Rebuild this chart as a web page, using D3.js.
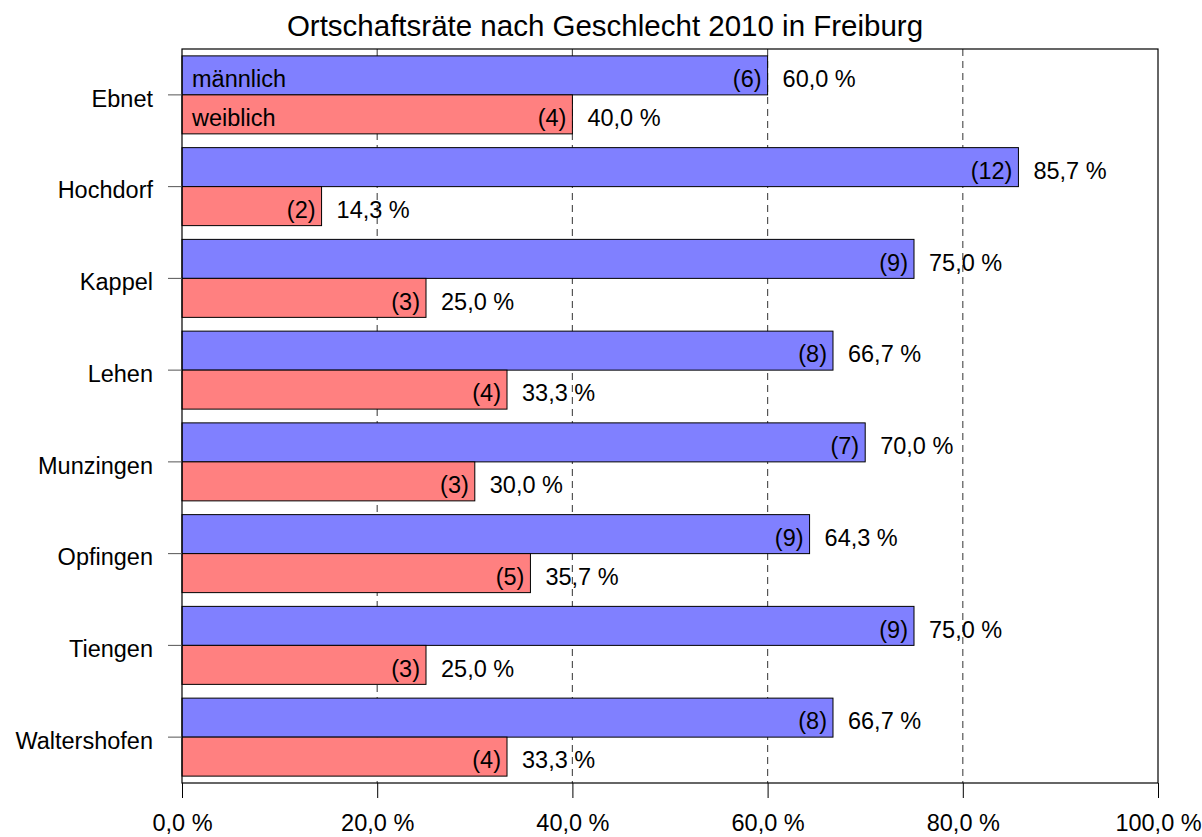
<!DOCTYPE html>
<html>
<head>
<meta charset="utf-8">
<script src="https://cdn.jsdelivr.net/npm/d3@7"></script>
<style>
  body { margin: 0; background: #fff; }
  svg { font-family: "Liberation Sans", Arial, sans-serif; }
</style>
</head>
<body>
<div id="chart"></div>
<script>
const places = ["Ebnet", "Hochdorf", "Kappel", "Lehen", "Munzingen", "Opfingen", "Tiengen", "Waltershofen"];
const maleSeats = [6, 12, 9, 8, 7, 9, 9, 8];
const femaleSeats = [4, 2, 3, 4, 3, 5, 3, 4];
const malePct = [60.0, 85.7, 75.0, 66.7, 70.0, 64.3, 75.0, 66.7];
const femalePct = [40.0, 14.3, 25.0, 33.3, 30.0, 35.7, 25.0, 33.3];
const groups = ["männlich", "weiblich"];
const xTicks = [0, 20, 40, 60, 80, 100];

const margin = { top: 49, right: 44, bottom: 54, left: 182 },
  width = 1202 - margin.left - margin.right,
  height = 837 - margin.top - margin.bottom;

const colours = { "männlich": "#8080ff", "weiblich": "#ff8080" };
const fontSize = 23.5;

const pct = v => d3.format(".1f")(v).replace(".", ",") + " %";

const rows = [];
places.forEach((p, i) => {
  rows.push({ place: p, group: "männlich", seats: maleSeats[i], share: malePct[i] });
  rows.push({ place: p, group: "weiblich", seats: femaleSeats[i], share: femalePct[i] });
});

const svg = d3.select("#chart")
  .append("svg")
  .attr("width", 1202)
  .attr("height", 837);

svg.append("text")
  .attr("x", 605)
  .attr("y", 36)
  .attr("text-anchor", "middle")
  .style("font-size", "29.5px")
  .text("Ortschaftsräte nach Geschlecht 2010 in Freiburg");

const g = svg.append("g")
  .attr("transform", `translate(${margin.left},${margin.top})`);

const x = d3.scaleLinear().domain([0, 100]).range([0, width]);
const y = d3.scaleBand().domain(places).range([0, height]).paddingInner(0.15).paddingOuter(0.075);
const ySub = d3.scaleBand().domain(groups).range([0, y.bandwidth()]);

// dashed grid
g.append("g")
  .selectAll("line")
  .data(xTicks.filter(t => t > 0 && t < 100))
  .join("line")
  .attr("x1", d => x(d)).attr("x2", d => x(d))
  .attr("y1", 0).attr("y2", height)
  .attr("stroke", "#555")
  .attr("stroke-width", 1.2)
  .attr("stroke-dasharray", "7,5");

// bars
g.append("g")
  .selectAll("rect")
  .data(rows)
  .join("rect")
  .attr("x", 0)
  .attr("y", d => y(d.place) + ySub(d.group))
  .attr("width", d => x(d.share))
  .attr("height", ySub.bandwidth())
  .attr("fill", d => colours[d.group])
  .attr("stroke", "#000")
  .attr("stroke-width", 1);

// seat counts inside the bars
g.append("g")
  .selectAll("text")
  .data(rows)
  .join("text")
  .attr("x", d => x(d.share) - 6)
  .attr("y", d => y(d.place) + ySub(d.group) + ySub.bandwidth() / 2)
  .attr("dy", "0.5em")
  .attr("text-anchor", "end")
  .style("font-size", fontSize + "px")
  .text(d => `(${d.seats})`);

// percentages after the bars
g.append("g")
  .selectAll("text")
  .data(rows)
  .join("text")
  .attr("x", d => x(d.share) + 15)
  .attr("y", d => y(d.place) + ySub(d.group) + ySub.bandwidth() / 2)
  .attr("dy", "0.5em")
  .style("font-size", fontSize + "px")
  .text(d => pct(d.share));

// group names in the first bars
g.append("g")
  .selectAll("text")
  .data(groups)
  .join("text")
  .attr("x", 10)
  .attr("y", d => y(places[0]) + ySub(d) + ySub.bandwidth() / 2)
  .attr("dy", "0.5em")
  .style("font-size", fontSize + "px")
  .text(d => d);

// frame
g.append("rect")
  .attr("width", width)
  .attr("height", height)
  .attr("fill", "none")
  .attr("stroke", "#000")
  .attr("stroke-width", 1.2);

// axes
const xAxis = g.append("g")
  .attr("transform", `translate(0,${height})`)
  .call(d3.axisBottom(x).tickValues(xTicks).tickSize(15).tickPadding(16).tickFormat(pct));
xAxis.select(".domain").remove();
xAxis.selectAll(".tick line").attr("stroke", "#000");
xAxis.selectAll("text")
  .style("font-size", fontSize + "px")
  .style("font-family", "Liberation Sans, Arial, sans-serif")
  .attr("fill", "#000");

const yAxis = g.append("g")
  .call(d3.axisLeft(y).tickSize(14).tickPadding(15));
yAxis.select(".domain").remove();
yAxis.selectAll(".tick line").attr("stroke", "#555");
yAxis.selectAll("text")
  .attr("dy", "0.5em")
  .style("font-size", fontSize + "px")
  .style("font-family", "Liberation Sans, Arial, sans-serif")
  .attr("fill", "#000");
</script>
</body>
</html>
